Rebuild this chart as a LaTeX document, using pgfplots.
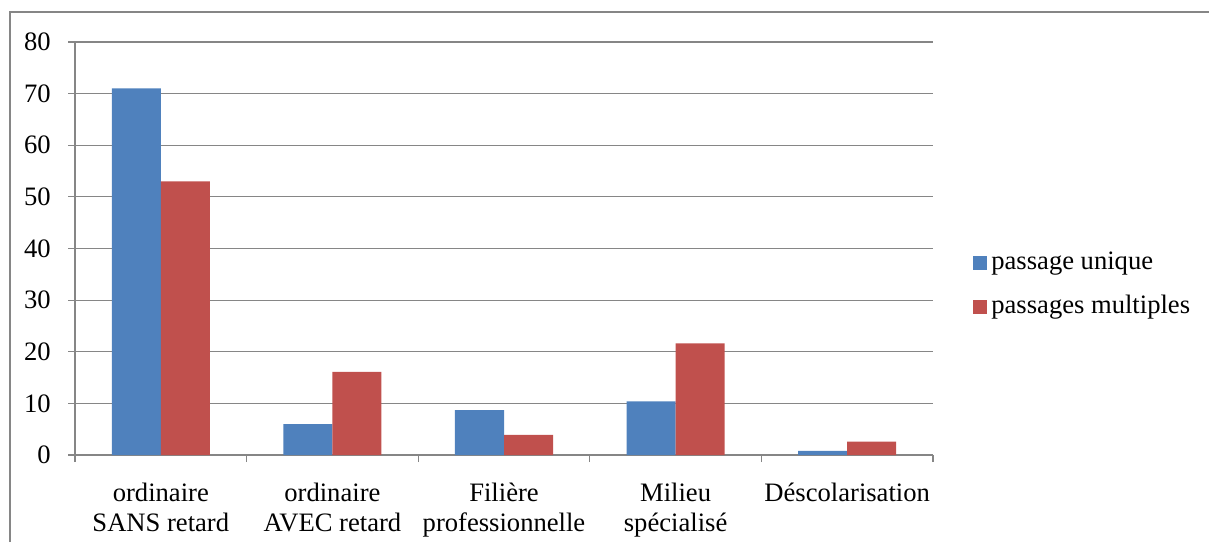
\documentclass[border=0pt]{standalone}
\usepackage{fontspec}
\setmainfont{Liberation Serif}
\usepackage{pgfplots}
\pgfplotsset{compat=1.18}
\definecolor{ublue}{HTML}{4F81BD}
\definecolor{ured}{HTML}{C0504D}
\definecolor{gline}{HTML}{868686}
\begin{document}
\fontsize{13.3pt}{15pt}\selectfont
\begin{tikzpicture}
\useasboundingbox (0pt,0pt) rectangle (604.5pt,271pt);
\draw[gline, line width=0.6pt] (5pt,0pt) -- (5pt,265pt) -- (604.5pt,265pt);
\begin{axis}[
  at={(37.5pt,43.5pt)}, anchor=south west,
  scale only axis, width=429pt, height=206.5pt,
  ybar=0pt, bar width=24.5pt,
  xmin=-0.5, xmax=4.5, ymin=0, ymax=80,
  ytick={0,10,...,80},
  xtick={0,1,2,3,4},
  xticklabels={{ordinaire\\SANS retard},{ordinaire\\AVEC retard},{Filière\\professionnelle},{Milieu\\spécialisé},{Déscolarisation}},
  xticklabel style={align=center, font=\fontsize{13.3pt}{15pt}\selectfont, yshift=-6pt},
  yticklabel style={font=\fontsize{13.3pt}{15pt}\selectfont, xshift=-4pt},
  /pgf/number format/assume math mode=true,
  major x tick style={draw=none},
  minor xtick={-0.5,0.5,1.5,2.5,3.5,4.5},
  minor x tick style={gline, line width=0.6pt},
  major y tick style={gline, line width=0.6pt},
  tick align=outside, major tick length=3.5pt, minor tick length=3.5pt,
  ymajorgrids, grid style={gline, line width=0.6pt},
  axis x line*=bottom, axis y line*=left,
  axis line style={gline, line width=0.6pt, -},
  legend style={draw=none, at={(1.0466,0.412)}, anchor=west, font=\fontsize{13.3pt}{15pt}\selectfont, row sep=7pt, inner sep=0pt},
  legend cell align=left,
  legend image code/.code={\fill[#1] (0pt,-3.5pt) rectangle (7pt,3.5pt);},
]
\addplot[fill=ublue, draw=none] coordinates {(0,71) (1,6) (2,8.7) (3,10.4) (4,0.8)};
\addplot[fill=ured, draw=none] coordinates {(0,53) (1,16.1) (2,3.9) (3,21.6) (4,2.6)};
\legend{passage unique, passages multiples}
\end{axis}
\end{tikzpicture}
\end{document}
